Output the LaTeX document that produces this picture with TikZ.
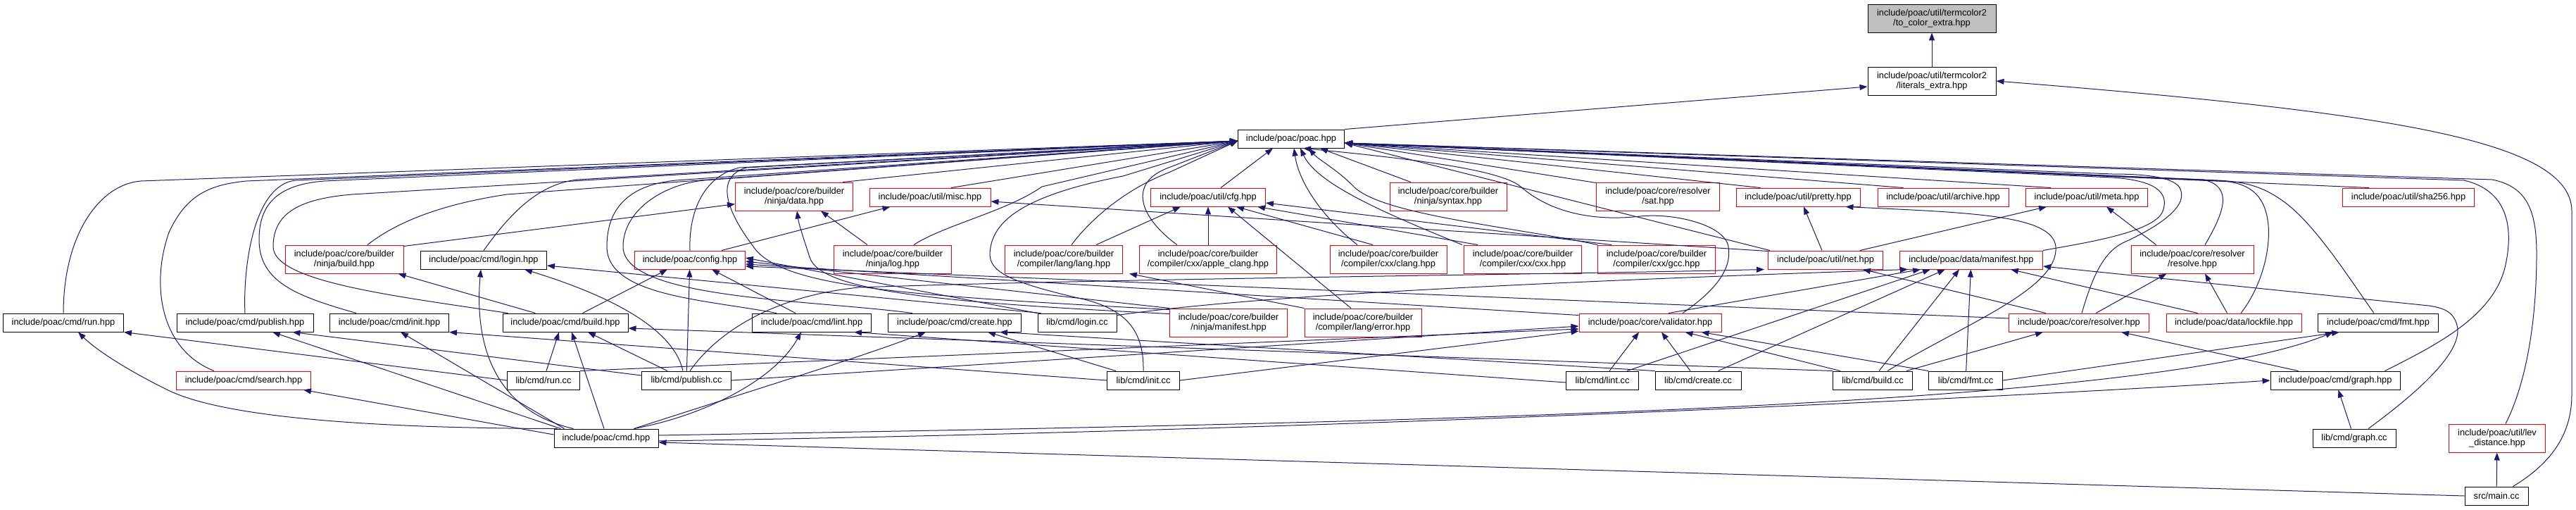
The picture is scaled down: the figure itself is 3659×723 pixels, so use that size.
\documentclass[tikz,border=0pt]{standalone}
\usepackage{fontspec}
\setmainfont{Liberation Sans}
\usetikzlibrary{arrows.meta,calc}
\definecolor{edgec}{HTML}{191970}
\definecolor{grayf}{HTML}{BFBFBF}
\newcommand\nodefont{\fontsize{12.8pt}{14.3pt}\selectfont}
\begin{document}
\begin{tikzpicture}[x=1pt,y=-1pt,
  nb/.style={draw=black, line width=0.95pt, fill=white, align=center, inner sep=0pt, font=\nodefont, text=black},
  nr/.style={nb, draw=red},
  ng/.style={nb, fill=grayf},
  sz/.style 2 args={minimum width=#1pt, minimum height=#2pt},
  ed/.style={draw=edgec, line width=1pt, -{Triangle[length=11pt,width=8pt]}},
]
\useasboundingbox (0,0) rectangle (3659,723);
% ---------- nodes ----------
\node[ng, sz={182}{40}] (tocolor) at (2744,26) {include/poac/util/termcolor2\\/to\_color\_extra.hpp};
\node[nb, sz={182}{40}] (literals) at (2744,115) {include/poac/util/termcolor2\\/literals\_extra.hpp};
\node[nb, sz={151}{26}] (poac) at (1834,197) {include/poac/poac.hpp};
% row 3
\node[nr, sz={167}{40}] (ndata) at (1128,279) {include/poac/core/builder\\/ninja/data.hpp};
\node[nr, sz={172}{26}] (misc) at (1321,280) {include/poac/util/misc.hpp};
\node[nr, sz={163}{26}] (cfg) at (1716,280) {include/poac/util/cfg.hpp};
\node[nr, sz={166}{40}] (syntax) at (2057,279) {include/poac/core/builder\\/ninja/syntax.hpp};
\node[nr, sz={175}{40}] (sat) at (2355,279) {include/poac/core/resolver\\/sat.hpp};
\node[nr, sz={176}{26}] (pretty) at (2554,280) {include/poac/util/pretty.hpp};
\node[nr, sz={186}{26}] (archive) at (2760,280) {include/poac/util/archive.hpp};
\node[nr, sz={173}{26}] (meta) at (2964,280) {include/poac/util/meta.hpp};
\node[nr, sz={187}{26}] (sha256) at (3421,280) {include/poac/util/sha256.hpp};
% row 4
\node[nr, sz={168}{40}] (nbuild) at (489,368) {include/poac/core/builder\\/ninja/build.hpp};
\node[nb, sz={179}{26}] (loginh) at (687,369) {include/poac/cmd/login.hpp};
\node[nr, sz={157}{26}] (config) at (980,369) {include/poac/config.hpp};
\node[nr, sz={167}{40}] (nlog) at (1268,368) {include/poac/core/builder\\/ninja/log.hpp};
\node[nr, sz={167}{40}] (lang) at (1511,368) {include/poac/core/builder\\/compiler/lang/lang.hpp};
\node[nr, sz={195}{40}] (apple) at (1716,368) {include/poac/core/builder\\/compiler/cxx/apple\_clang.hpp};
\node[nr, sz={166}{40}] (clang) at (1972,368) {include/poac/core/builder\\/compiler/cxx/clang.hpp};
\node[nr, sz={167}{40}] (cxx) at (2163,368) {include/poac/core/builder\\/compiler/cxx/cxx.hpp};
\node[nr, sz={167}{40}] (gcc) at (2353,368) {include/poac/core/builder\\/compiler/cxx/gcc.hpp};
\node[nr, sz={163}{26}] (net) at (2593,369) {include/poac/util/net.hpp};
\node[nr, sz={203}{26}] (manifest) at (2800,369) {include/poac/data/manifest.hpp};
\node[nr, sz={174}{40}] (resolve) at (3114,368) {include/poac/core/resolver\\/resolve.hpp};
% row 5
\node[nb, sz={171}{26}] (runh) at (90,458) {include/poac/cmd/run.hpp};
\node[nb, sz={194}{26}] (publishh) at (348,458) {include/poac/cmd/publish.hpp};
\node[nb, sz={169}{26}] (inith) at (553,458) {include/poac/cmd/init.hpp};
\node[nb, sz={178}{26}] (buildh) at (803,458) {include/poac/cmd/build.hpp};
\node[nb, sz={169}{26}] (linth) at (1153,458) {include/poac/cmd/lint.hpp};
\node[nb, sz={189}{26}] (createh) at (1356,458) {include/poac/cmd/create.hpp};
\node[nb, sz={112}{26}] (logincc) at (1530,458) {lib/cmd/login.cc};
\node[nr, sz={167}{40}] (nmanifest) at (1745,458) {include/poac/core/builder\\/ninja/manifest.hpp};
\node[nr, sz={166}{40}] (error) at (1936,458) {include/poac/core/builder\\/compiler/lang/error.hpp};
\node[nr, sz={202}{26}] (validator) at (2344,458) {include/poac/core/validator.hpp};
\node[nr, sz={199}{26}] (resolver) at (2953,458) {include/poac/core/resolver.hpp};
\node[nr, sz={192}{26}] (lockfile) at (3173,458) {include/poac/data/lockfile.hpp};
\node[nb, sz={171}{26}] (fmth) at (3378,458) {include/poac/cmd/fmt.hpp};
% row 6
\node[nr, sz={191}{26}] (searchh) at (346,540) {include/poac/cmd/search.hpp};
\node[nb, sz={103}{26}] (runcc) at (772,540) {lib/cmd/run.cc};
\node[nb, sz={127}{26}] (publishcc) at (975,540) {lib/cmd/publish.cc};
\node[nb, sz={103}{26}] (initcc) at (1624,540) {lib/cmd/init.cc};
\node[nb, sz={103}{26}] (lintcc) at (2276,540) {lib/cmd/lint.cc};
\node[nb, sz={122}{26}] (createcc) at (2412,540) {lib/cmd/create.cc};
\node[nb, sz={113}{26}] (buildcc) at (2660,540) {lib/cmd/build.cc};
\node[nb, sz={105}{26}] (fmtcc) at (2792,540) {lib/cmd/fmt.cc};
\node[nb, sz={184}{26}] (graphh) at (3317,540) {include/poac/cmd/graph.hpp};
% row 7-8
\node[nb, sz={148}{26}] (cmdh) at (861,622) {include/poac/cmd.hpp};
\node[nb, sz={118}{26}] (graphcc) at (3344,622) {lib/cmd/graph.cc};
\node[nr, sz={137}{40}] (lev) at (3547,622) {include/poac/util/lev\\\_distance.hpp};
\node[nb, sz={90}{26}] (main) at (3546,704) {src/main.cc};

\coordinate (L1) at ($(poac.west)+(0,3)$);
\coordinate (R1) at ($(poac.east)+(0,6)$);

% ---------- top ----------
\draw[ed] (literals) -- (tocolor);
\draw[ed] (poac.north east) -- ($(literals.west)+(0,8)$);
\draw[ed] ($(main.north east)+(-22,0)$) .. controls (3620,660) and (3653,620) .. (3653,560) -- (3653,300) .. controls (3653,200) and (3400,160) .. (literals.east);

% ---------- to poac, left side ----------
\draw[ed] (runh.north) .. controls (90,335) and (140,262) .. (200,257) -- (L1);
\draw[ed] ($(searchh.north)+(-42,0)$) .. controls (225,495) and (215,400) .. (240,330) .. controls (265,275) and (300,262) .. (350,257) -- (L1);
\draw[ed] (publishh.north) .. controls (345,380) and (360,262) .. (420,256) -- (L1);
\draw[ed] ($(inith.north)+(-47,0)$) .. controls (420,420) and (368,400) .. (368,340) .. controls (368,285) and (400,262) .. (460,257) -- (L1);
\draw[ed] ($(buildh.north west)+(8,0)$) .. controls (560,420) and (388,400) .. (388,350) .. controls (388,300) and (430,282) .. (500,276) -- (L1);
\draw[ed] ($(nbuild.north)+(33,0)$) .. controls (570,310) and (640,288) .. (720,276) -- (L1);
\draw[ed] (loginh.north) .. controls (720,310) and (760,262) .. (820,255) -- (L1);
\draw[ed] ($(linth.north)+(-50,0)$) .. controls (1000,425) and (862,420) .. (862,350) .. controls (862,290) and (900,262) .. (960,256) -- (L1);
\draw[ed] ($(createh.north)+(-60,0)$) .. controls (1150,425) and (885,425) .. (885,350) .. controls (885,300) and (940,262) .. (1000,256) -- (L1);
\draw[ed] (config.north) .. controls (978,300) and (1000,250) .. (1050,238) -- (L1);
\draw[ed] ($(nmanifest.north west)+(0,2)$) .. controls (1300,420) and (1110,410) .. (1070,350) .. controls (1025,290) and (1020,250) .. (1060,238) -- (L1);
\draw[ed] ($(ndata.north east)+(-15,0)$) -- (L1);
\draw[ed] ($(misc.north)+(30,0)$) -- (L1);
\draw[ed] ($(nlog.north)+(30,0)$) .. controls (1340,320) and (1430,300) .. (1480,265) -- (L1);
\draw[ed] (initcc.north) .. controls (1625,470) and (1600,440) .. (1540,425) .. controls (1430,400) and (1406,385) .. (1406,360) .. controls (1408,320) and (1440,280) .. (1595,250) -- (L1);
\draw[ed] ($(lang.north)+(11,0)$) .. controls (1550,310) and (1600,268) .. (1660,245) -- (L1);
\draw[ed] ($(apple.north)+(-44,0)$) .. controls (1620,310) and (1600,260) .. (1660,238) -- (L1);
\draw[ed] ($(cfg.north)+(18,0)$) -- ($(poac.south west)+(50,0)$);
\draw[ed] ($(clang.north)+(-44,0)$) .. controls (1880,310) and (1845,260) .. ($(poac.south)+(4,0)$);
\draw[ed] ($(cxx.north west)+(-2,0)$) .. controls (1960,300) and (1870,260) .. ($(poac.south)+(13,0)$);
\draw[ed] (gcc.north west) .. controls (2150,322) and (1960,305) .. (1922,264) .. controls (1898,240) and (1872,226) .. ($(poac.south)+(25,0)$);
\draw[ed] ($(syntax.north)+(-53,0)$) -- ($(poac.south)+(41,0)$);

% ---------- to poac, right side ----------
\draw[ed] ($(sat.north west)+(0,1)$) -- (R1);
\draw[ed] ($(validator.north)+(46,0)$) .. controls (2440,410) and (2460,380) .. (2455,350) .. controls (2450,320) and (2380,302) .. (2330,307) .. controls (2260,315) and (2200,300) .. (2160,265) .. controls (2130,240) and (2000,225) .. ($(poac.south)+(17,0)$);
\draw[ed] ($(net.north west)+(3,0)$) -- (R1);
\draw[ed] ($(pretty.north west)+(35,0)$) -- (R1);
\draw[ed] ($(archive.north west)+(37,0)$) -- (R1);
\draw[ed] ($(meta.north west)+(36,0)$) -- (R1);
\draw[ed] ($(sha256.north west)+(38,0)$) -- (R1);
\draw[ed] (manifest.north east) .. controls (2960,345) and (3060,330) .. (3072,300) .. controls (3082,272) and (3060,256) .. (3000,252) -- (R1);
\draw[ed] ($(resolver.north)+(4,0)$) .. controls (2970,400) and (2985,360) .. (3015,345) .. controls (3070,320) and (3112,290) .. (3095,265) .. controls (3085,252) and (3050,247) .. (3000,247) -- (R1);
\draw[ed] ($(resolve.north)+(18,0)$) .. controls (3160,300) and (3172,265) .. (3130,255) -- (R1);
\draw[ed] ($(lockfile.north)+(10,0)$) .. controls (3210,410) and (3225,360) .. (3222,320) .. controls (3218,280) and (3200,262) .. (3160,257) -- (R1);
\draw[ed] ($(fmth.north)+(-6,0)$) .. controls (3340,400) and (3290,320) .. (3245,287) .. controls (3215,265) and (3190,258) .. (3150,256) -- (R1);
\draw[ed] ($(graphh.north east)+(-22,0)$) .. controls (3460,490) and (3540,450) .. (3558,380) .. controls (3572,320) and (3560,270) .. (3500,256) -- (R1);
\draw[ed] ($(lev.north)+(12,0)$) .. controls (3590,540) and (3603,450) .. (3603,360) .. controls (3603,300) and (3590,265) .. (3540,255) -- (R1);

% ---------- builder / util ----------
\draw[ed] ($(nbuild.north east)+(0,2)$) -- (ndata);
\draw[ed] ($(nmanifest.north west)+(0,8)$) .. controls (1350,430) and (1165,415) .. (1150,365) .. controls (1142,340) and (1135,320) .. ($(ndata.south)+(4,0)$);
\draw[ed] ($(nlog.north)+(-36,0)$) -- ($(ndata.south east)+(-46,0)$);
\draw[ed] ($(config.north east)+(-34,0)$) -- ($(misc.south west)+(30,0)$);
\draw[ed] ($(net.north west)+(0,1)$) -- ($(misc.east)+(0,6)$);
\draw[ed] ($(lang.north east)+(-38,0)$) -- ($(cfg.south west)+(43,0)$);
\draw[ed] (apple) -- (cfg);
\draw[ed] ($(clang.north)+(-22,0)$) -- ($(cfg.south)+(40,0)$);
\draw[ed] ($(cxx.north west)+(20,0)$) -- ($(cfg.south east)+(-12,0)$);
\draw[ed] ($(gcc.north west)+(20,0)$) -- ($(cfg.east)+(0,8)$);
\draw[ed] ($(error.north)+(-17,0)$) -- ($(cfg.south)+(28,0)$);
\draw[ed] (error.north west) -- ($(lang.south east)+(9,0)$);
\draw[ed] ($(net.north)+(-5,0)$) -- ($(pretty.south)+(8,0)$);
\draw[ed] ($(net.north east)+(-33,0)$) -- ($(meta.south west)+(30,0)$);
\draw[ed] ($(resolve.north west)+(36,0)$) -- ($(meta.south east)+(-59,0)$);
\draw[ed] ($(buildcc.north)+(21,0)$) .. controls (2790,460) and (2925,410) .. (2920,350) .. controls (2915,305) and (2800,302) .. ($(pretty.south east)+(-21,0)$);
\draw[ed] ($(resolver.north west)+(53,0)$) -- ($(net.south east)+(-29,0)$);

% ---------- config ----------
\draw[ed] ($(buildh.north west)+(47,0)$) -- ($(nbuild.south east)+(-8,0)$);
\draw[ed] ($(buildh.north east)+(-65,0)$) -- ($(config.south west)+(47,0)$);
\draw[ed] (publishcc) -- (config);
\draw[ed] ($(linth.north)+(-23,0)$) -- ($(config.south east)+(-48,0)$);
\draw[ed] (logincc.north west) -- ($(config.east)+(0,-3)$);
\draw[ed] (nmanifest.north west) -- ($(config.east)+(0,2)$);
\draw[ed] ($(validator.north west)+(0,3)$) -- ($(config.east)+(0,6)$);
\draw[ed] ($(resolver.west)+(0,-6)$) -- ($(config.east)+(0,9)$);

% ---------- data/manifest ----------
\draw[ed] ($(lockfile.north west)+(45,0)$) -- ($(manifest.south east)+(-46,0)$);
\draw[ed] ($(graphcc.north)+(20,0)$) .. controls (3430,560) and (3500,500) .. (3490,462) .. controls (3485,442) and (3470,437) .. (3450,434) -- ($(manifest.east)+(0,9)$);
\draw[ed] (fmtcc) -- (manifest);
\draw[ed] ($(buildcc.north)+(9,0)$) -- ($(manifest.south)+(-17,0)$);
\draw[ed] ($(createcc.north east)+(-33,0)$) -- ($(manifest.south)+(-37,0)$);
\draw[ed] ($(lintcc.north east)+(-17,0)$) -- ($(manifest.south)+(-58,0)$);
\draw[ed] ($(validator.north)+(26,0)$) -- ($(manifest.south west)+(30,0)$);
\draw[ed] ($(logincc.north east)+(0,3)$) .. controls (1700,432) and (1900,410) .. ($(manifest.south west)+(12,0)$);
\draw[ed] ($(publishcc.north)+(5,0)$) .. controls (1020,470) and (1100,420) .. (1220,408) .. controls (1600,395) and (2200,390) .. ($(net.south west)+(-5,0)$);

% ---------- resolver / validator ----------
\draw[ed] (resolver) -- (resolve);
\draw[ed] ($(lockfile.north west)+(87,0)$) -- ($(resolve.south)+(18,0)$);
\draw[ed] ($(buildcc.north east)+(-9,0)$) -- ($(resolver.south west)+(49,0)$);
\draw[ed] ($(graphh.north west)+(40,0)$) -- ($(resolver.south east)+(-40,0)$);
\draw[ed] ($(lintcc.north)+(10,0)$) -- ($(validator.south)+(-16,0)$);
\draw[ed] ($(createcc.north)+(-11,0)$) -- ($(validator.south)+(16,0)$);
\draw[ed] ($(buildcc.north west)+(11,0)$) -- ($(validator.south east)+(-52,0)$);
\draw[ed] (fmtcc.north west) -- ($(validator.south east)+(-29,0)$);
\draw[ed] (runcc.north east) -- ($(validator.west)+(0,9)$);
\draw[ed] (publishcc.east) -- ($(validator.west)+(0,5)$);
\draw[ed] (initcc.east) -- ($(validator.west)+(0,12)$);

% ---------- cmd headers ----------
\draw[ed] (runcc.west) -- (runh.south east);
\draw[ed] ($(publishcc.west)+(0,-7)$) -- ($(publishh.south east)+(-30,0)$);
\draw[ed] (initcc.west) -- (inith.south east);
\draw[ed] ($(runcc.north)+(4,0)$) -- ($(buildh.south)+(-9,0)$);
\draw[ed] ($(cmdh.north)+(-3,0)$) -- ($(buildh.south)+(9,0)$);
\draw[ed] ($(publishcc.north west)+(37,0)$) -- ($(buildh.south)+(32,0)$);
\draw[ed] (buildcc.north west) -- ($(buildh.east)+(0,8)$);
\draw[ed] ($(cmdh.north west)+(28,0)$) .. controls (690,580) and (675,470) .. ($(loginh.south)+(-4,0)$);
\draw[ed] ($(publishcc.north)+(-5,0)$) .. controls (960,480) and (900,430) .. ($(loginh.south east)+(-32,0)$);
\draw[ed] ($(logincc.north west)+(5,0)$) -- ($(loginh.east)+(0,8)$);
\draw[ed] ($(cmdh.north west)+(5,0)$) .. controls (600,608) and (330,600) .. (237,553) .. controls (190,530) and (140,500) .. ($(runh.south)+(21,0)$);
\draw[ed] ($(cmdh.west)+(0,-5)$) -- ($(searchh.south east)+(-11,0)$);
\draw[ed] ($(cmdh.north west)+(10,0)$) -- ($(publishh.south)+(39,0)$);
\draw[ed] ($(cmdh.north west)+(15,0)$) -- ($(inith.south)+(16,0)$);
\draw[ed] ($(cmdh.north east)+(-35,0)$) .. controls (1000,590) and (1100,540) .. ($(linth.south)+(-15,0)$);
\draw[ed] ($(cmdh.north east)+(-35,0)$) .. controls (1050,560) and (1230,505) .. ($(createh.south)+(-41,0)$);
\draw[ed] ($(lintcc.west)+(0,3)$) -- ($(linth.south east)+(-25,0)$);
\draw[ed] ($(initcc.north west)+(13,0)$) -- ($(createh.south east)+(-48,0)$);
\draw[ed] (createcc.north west) -- ($(createh.south east)+(-31,0)$);
\draw[ed] (fmtcc.east) -- ($(fmth.south west)+(31,0)$);
\draw[ed] ($(cmdh.east)+(0,-4)$) .. controls (2000,600) and (3050,580) .. ($(fmth.south west)+(22,0)$);
\draw[ed] ($(cmdh.east)+(0,4)$) .. controls (2000,610) and (3000,555) .. (graphh.west);
\draw[ed] (graphcc) -- (graphh);
\draw[ed] (main.west) -- ($(cmdh.east)+(0,6)$);
\draw[ed] (main) -- (lev);
\end{tikzpicture}
\end{document}
